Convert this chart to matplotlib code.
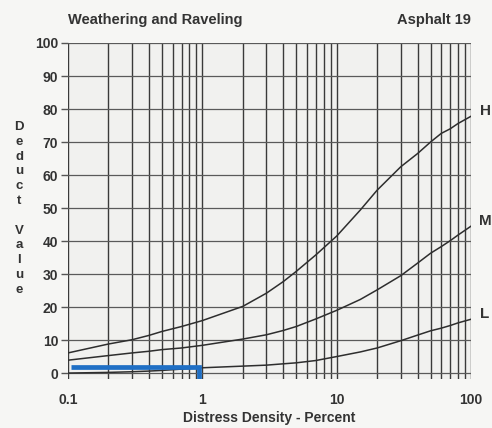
import numpy as np
import matplotlib
matplotlib.use("Agg")
from matplotlib import pyplot as plt

# values
density = [0.1, 0.2, 0.3, 0.4, 0.5, 0.7, 1, 2, 3, 4, 5, 7, 10, 15, 20, 30, 40, 50, 60, 70, 80, 100]
high = [6.1, 8.8, 10.1, 11.4, 12.6, 14.1, 15.9, 20.2, 24.2, 27.7, 30.8, 35.8, 41.5, 49.4, 55.4, 62.5, 66.5, 70.0, 72.6, 74.0, 75.6, 77.8]
medium = [3.9, 5.3, 6.1, 6.6, 7.1, 7.6, 8.4, 10.3, 11.6, 12.9, 14.1, 16.4, 19.0, 22.3, 25.2, 29.5, 33.3, 36.3, 38.3, 40.1, 41.8, 44.5]
low = [0.0, 0.2, 0.4, 0.6, 0.8, 1.2, 1.6, 2.1, 2.4, 2.8, 3.1, 3.8, 5.0, 6.4, 7.6, 9.8, 11.5, 12.8, 13.6, 14.4, 15.2, 16.3]
curve_labels = ["H", "M", "L"]

# blue marker drawn on the scan
blue_x = [0.105, 0.94, 0.94]
blue_y = [1.75, 1.75, -1.7]

yticks = [0, 10, 20, 30, 40, 50, 60, 70, 80, 90, 100]
xticks = [0.1, 1, 10, 100]
xticklabels = ["0.1", "1", "10", "100"]

font = "Liberation Sans"
ink = "#333333"

fig = plt.figure(figsize=(4.92, 4.28), dpi=100)
fig.patch.set_facecolor("#f6f6f4")
ax = fig.add_axes([68 / 492, 1 - 379 / 428, (471 - 68) / 492, (379 - 43) / 428])
ax.set_facecolor("#f1f1ef")
ax.set_xscale("log")
ax.set_xlim(0.1, 100)
ax.set_ylim(-1.8, 100)

# grid: every log minor line vertical, every 10 horizontal
for dec in [0.1, 1, 10]:
    for k in range(1, 10):
        ax.axvline(dec * k, color="#3a3a3a", lw=1.0, zorder=1)
ax.axvline(100, color="#3a3a3a", lw=1.0, zorder=1)
for y in yticks:
    ax.axhline(y, color="#5a5a5a", lw=0.9, zorder=1)

for s in ax.spines.values():
    s.set_visible(False)

ax.plot(density, high, color="#2e2e2e", lw=1.1, zorder=3)
ax.plot(density, medium, color="#2e2e2e", lw=1.1, zorder=3)
ax.plot(density, low, color="#2e2e2e", lw=1.1, zorder=3)

ax.plot(blue_x, blue_y, color="#1f6fc5", lw=3.4, solid_joinstyle="miter",
        solid_capstyle="butt", zorder=4)

ax.set_yticks(yticks)
ax.set_xticks(xticks)
ax.set_xticklabels(xticklabels)
ax.xaxis.set_minor_locator(matplotlib.ticker.NullLocator())
ax.tick_params(axis="y", length=5, width=1.0, color="#555555", pad=2)
ax.tick_params(axis="x", length=0, pad=10)
for lab in ax.get_xticklabels() + ax.get_yticklabels():
    lab.set_fontfamily(font)
    lab.set_fontweight("bold")
    lab.set_fontsize(10)
    lab.set_color(ink)

# curve labels at the right edge
for name, vals in zip(curve_labels, [high, medium, low]):
    ax.text(1.035, vals[-1] + 1.5, name, transform=ax.get_yaxis_transform(),
            fontfamily=font, fontweight="bold", fontsize=11, color=ink,
            ha="center", va="center")

fig.text(68 / 492, 1 - 20 / 428, "Weathering and Raveling", fontfamily=font,
         fontweight="bold", fontsize=10.5, color=ink, ha="left", va="center")
fig.text(471 / 492, 1 - 20 / 428, "Asphalt 19", fontfamily=font,
         fontweight="bold", fontsize=10.5, color=ink, ha="right", va="center")
fig.text(269 / 492, 1 - 418 / 428, "Distress Density - Percent", fontfamily=font,
         fontweight="bold", fontsize=10, color=ink, ha="center", va="center")

# stacked vertical y label
letters = list("Deduct") + [""] + list("Value")
for i, ch in enumerate(letters):
    fig.text(19 / 492, 1 - (127 + i * 14.8) / 428, ch, fontfamily=font,
             fontweight="bold", fontsize=9.5, color=ink, ha="center", va="center")

fig.savefig("out.png", dpi=100, facecolor=fig.get_facecolor())
